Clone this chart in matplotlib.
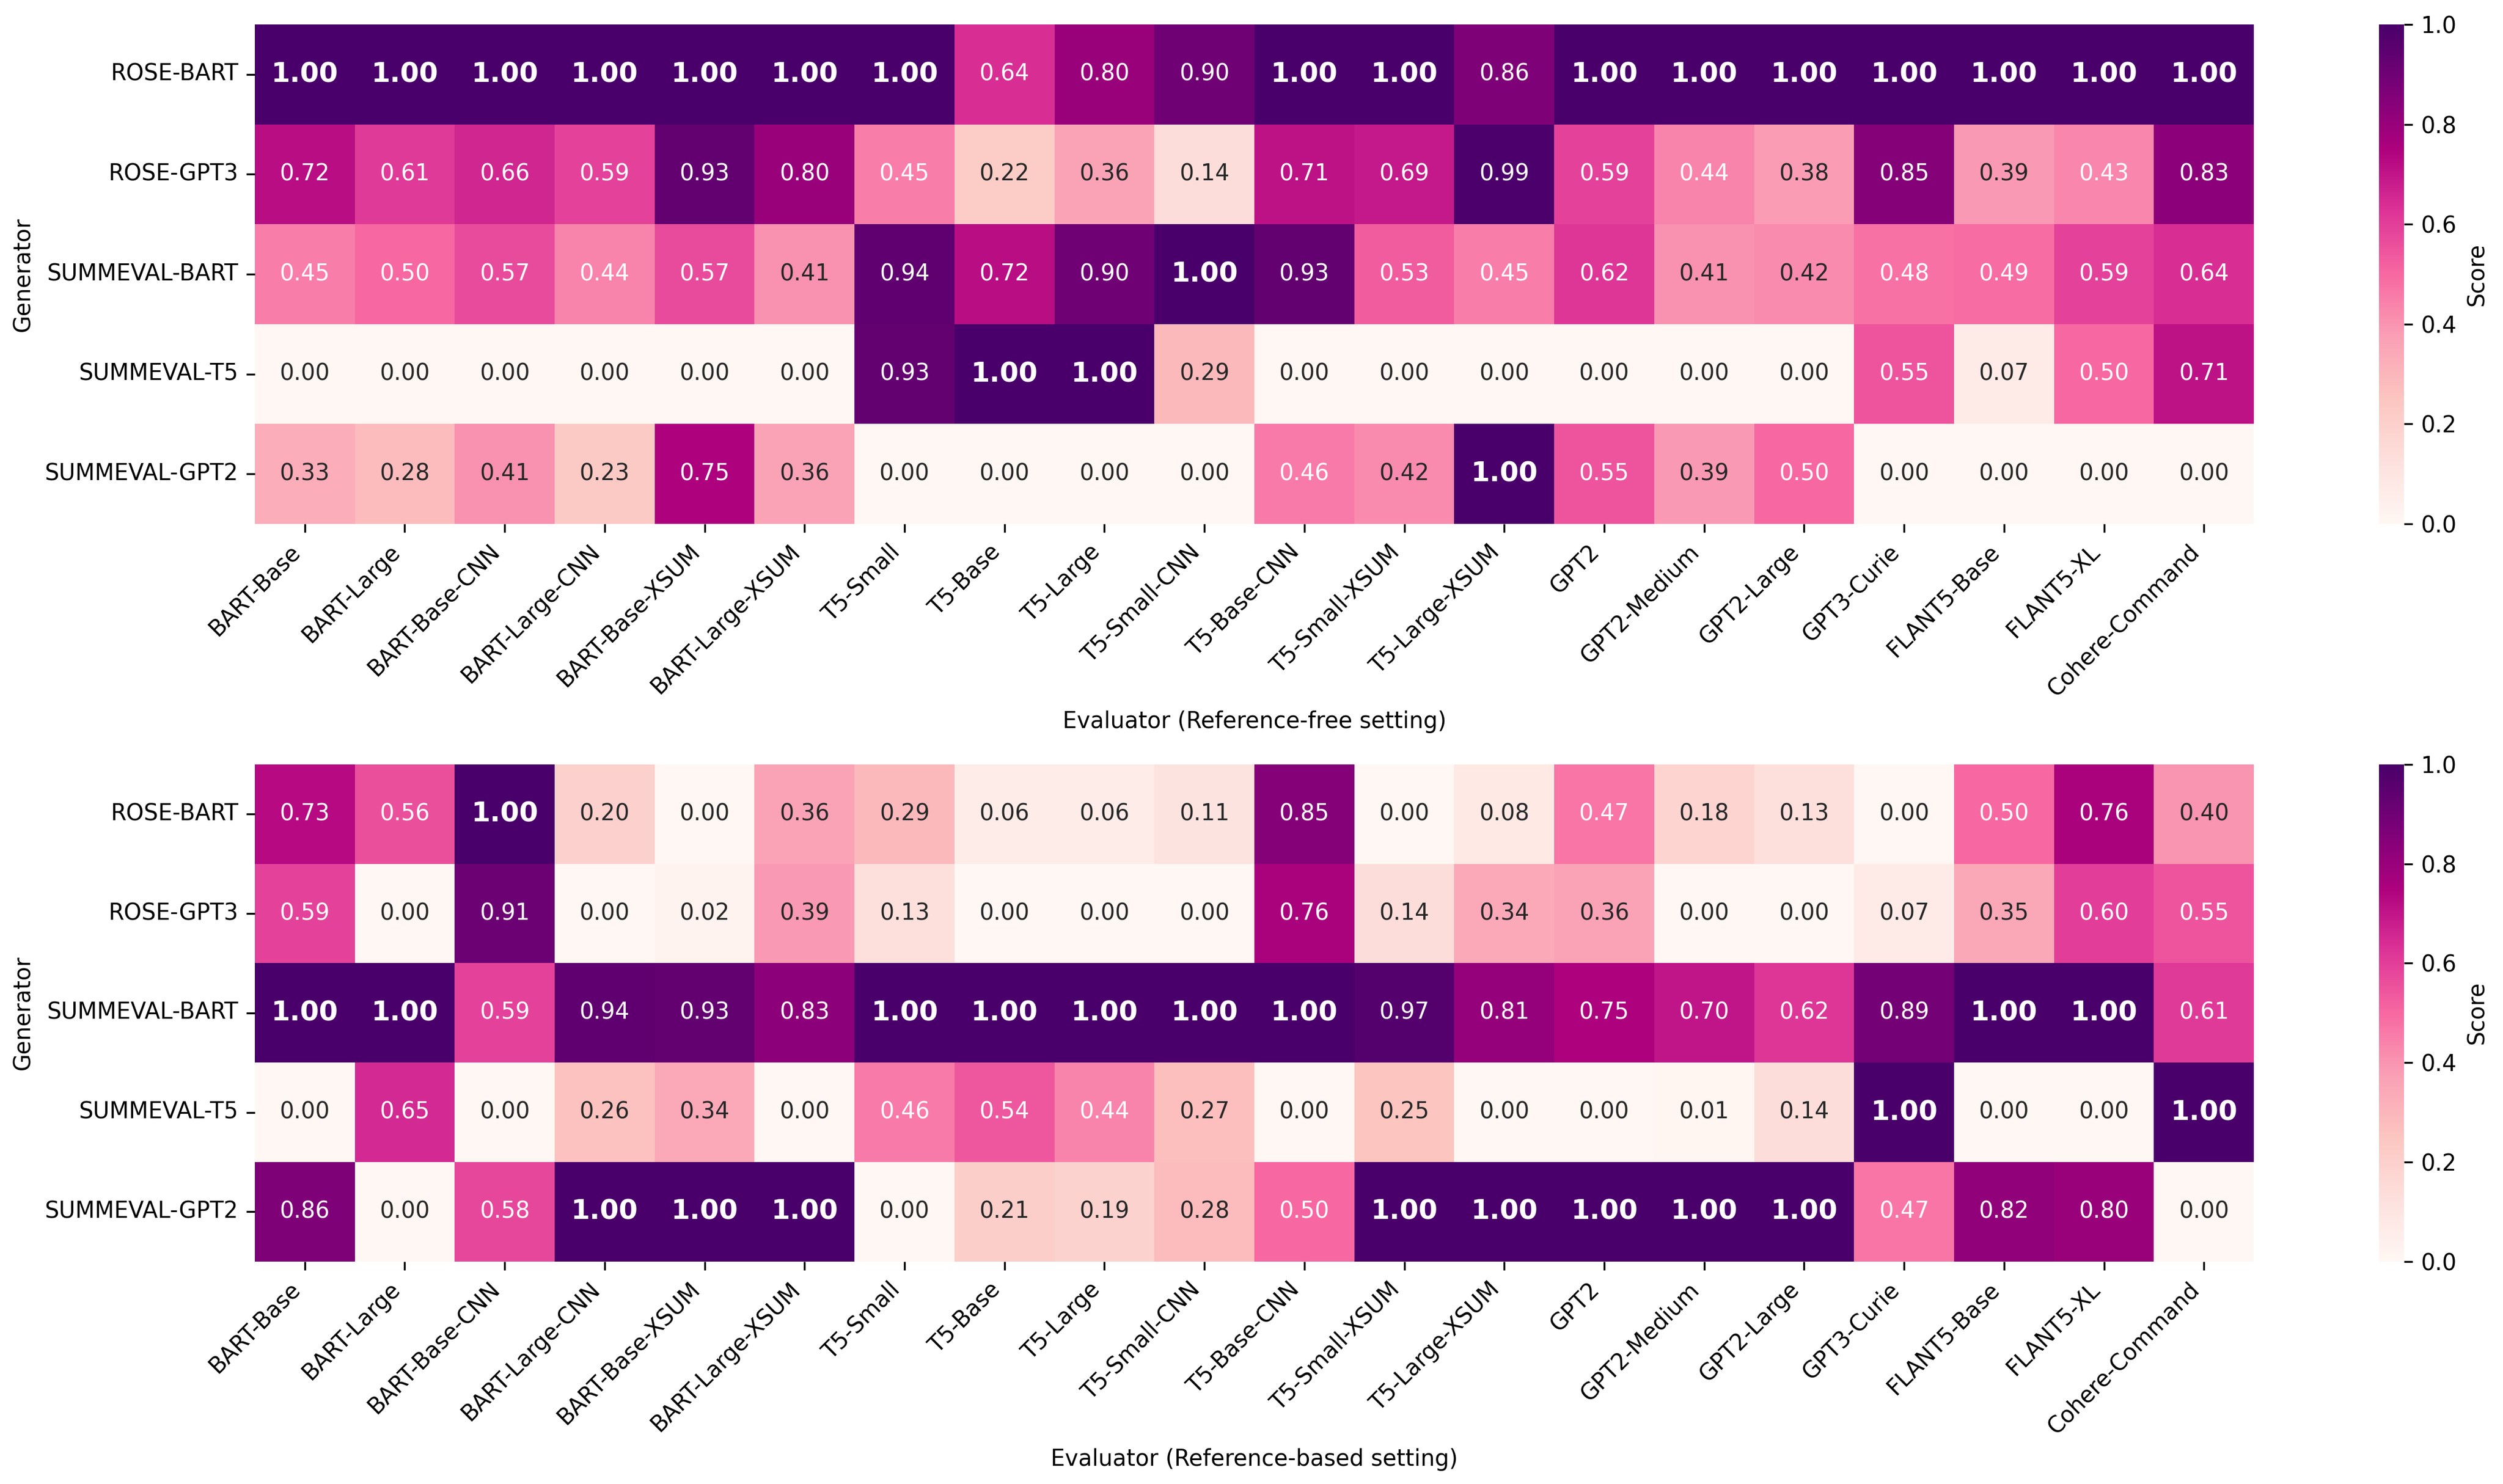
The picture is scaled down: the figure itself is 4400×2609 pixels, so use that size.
import matplotlib
matplotlib.use("Agg")
import matplotlib.pyplot as plt
import numpy as np
import pandas as pd
import seaborn as sns

generators = ["ROSE-BART", "ROSE-GPT3", "SUMMEVAL-BART", "SUMMEVAL-T5", "SUMMEVAL-GPT2"]
evaluators = ["BART-Base", "BART-Large", "BART-Base-CNN", "BART-Large-CNN", "BART-Base-XSUM",
              "BART-Large-XSUM", "T5-Small", "T5-Base", "T5-Large", "T5-Small-CNN",
              "T5-Base-CNN", "T5-Small-XSUM", "T5-Large-XSUM", "GPT2", "GPT2-Medium",
              "GPT2-Large", "GPT3-Curie", "FLANT5-Base", "FLANT5-XL", "Cohere-Command"]

# reference-free setting
free_rose_bart = [1.00, 1.00, 1.00, 1.00, 1.00, 1.00, 1.00, 0.64, 0.80, 0.90,
                  1.00, 1.00, 0.86, 1.00, 1.00, 1.00, 1.00, 1.00, 1.00, 1.00]
free_rose_gpt3 = [0.72, 0.61, 0.66, 0.59, 0.93, 0.80, 0.45, 0.22, 0.36, 0.14,
                  0.71, 0.69, 0.99, 0.59, 0.44, 0.38, 0.85, 0.39, 0.43, 0.83]
free_summeval_bart = [0.45, 0.50, 0.57, 0.44, 0.57, 0.41, 0.94, 0.72, 0.90, 1.00,
                      0.93, 0.53, 0.45, 0.62, 0.41, 0.42, 0.48, 0.49, 0.59, 0.64]
free_summeval_t5 = [0.00, 0.00, 0.00, 0.00, 0.00, 0.00, 0.93, 1.00, 1.00, 0.29,
                    0.00, 0.00, 0.00, 0.00, 0.00, 0.00, 0.55, 0.07, 0.50, 0.71]
free_summeval_gpt2 = [0.33, 0.28, 0.41, 0.23, 0.75, 0.36, 0.00, 0.00, 0.00, 0.00,
                      0.46, 0.42, 1.00, 0.55, 0.39, 0.50, 0.00, 0.00, 0.00, 0.00]

# reference-based setting
based_rose_bart = [0.73, 0.56, 1.00, 0.20, 0.00, 0.36, 0.29, 0.06, 0.06, 0.11,
                   0.85, 0.00, 0.08, 0.47, 0.18, 0.13, 0.00, 0.50, 0.76, 0.40]
based_rose_gpt3 = [0.59, 0.00, 0.91, 0.00, 0.02, 0.39, 0.13, 0.00, 0.00, 0.00,
                   0.76, 0.14, 0.34, 0.36, 0.00, 0.00, 0.07, 0.35, 0.60, 0.55]
based_summeval_bart = [1.00, 1.00, 0.59, 0.94, 0.93, 0.83, 1.00, 1.00, 1.00, 1.00,
                       1.00, 0.97, 0.81, 0.75, 0.70, 0.62, 0.89, 1.00, 1.00, 0.61]
based_summeval_t5 = [0.00, 0.65, 0.00, 0.26, 0.34, 0.00, 0.46, 0.54, 0.44, 0.27,
                     0.00, 0.25, 0.00, 0.00, 0.01, 0.14, 1.00, 0.00, 0.00, 1.00]
based_summeval_gpt2 = [0.86, 0.00, 0.58, 1.00, 1.00, 1.00, 0.00, 0.21, 0.19, 0.28,
                       0.50, 1.00, 1.00, 1.00, 1.00, 1.00, 0.47, 0.82, 0.80, 0.00]

free_df = pd.DataFrame([free_rose_bart, free_rose_gpt3, free_summeval_bart,
                        free_summeval_t5, free_summeval_gpt2],
                       index=generators, columns=evaluators)
based_df = pd.DataFrame([based_rose_bart, based_rose_gpt3, based_summeval_bart,
                         based_summeval_t5, based_summeval_gpt2],
                        index=generators, columns=evaluators)

fs = 9.5
plt.rcParams['font.size'] = fs

fig = plt.figure(figsize=(4400 / 300, 2609 / 300), dpi=300)

panels = [
    (free_df, "Evaluator (Reference-free setting)", [0.1018, 0.647, 0.7987, 0.3365]),
    (based_df, "Evaluator (Reference-based setting)", [0.1018, 0.150, 0.7987, 0.3349]),
]

for df, xlabel, rect in panels:
    ax = fig.add_axes(rect)
    cax = fig.add_axes([0.9505, rect[1], 0.0100, rect[3]])
    sns.heatmap(df, ax=ax, cbar_ax=cax, cmap="RdPu", vmin=0, vmax=1,
                annot=True, fmt=".2f", annot_kws={"fontsize": fs},
                cbar_kws={"label": "Score"})
    for t in ax.texts:
        if t.get_text() == "1.00":
            t.set_fontweight("bold")
            t.set_fontsize(11.5)
    ax.set_xlabel(xlabel, fontsize=fs)
    ax.set_ylabel("Generator", fontsize=fs)
    ax.set_xticklabels(evaluators, rotation=45, ha="right", fontsize=fs)
    ax.set_yticklabels(generators, rotation=0, fontsize=fs)
    cax.set_yticks([0.0, 0.2, 0.4, 0.6, 0.8, 1.0])
    cax.tick_params(labelsize=fs)
    cax.yaxis.label.set_size(fs)

fig.savefig("out.png", dpi=300)
